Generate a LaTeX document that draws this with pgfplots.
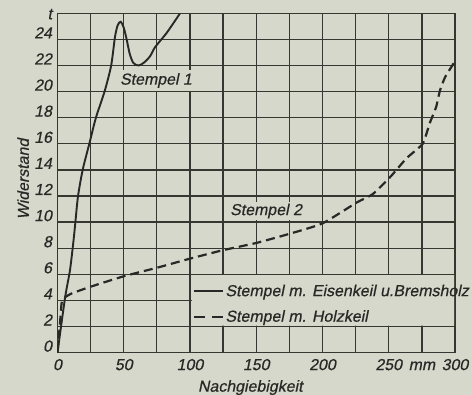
\documentclass[border=0pt]{standalone}
\usepackage{pgfplots}
\pgfplotsset{compat=1.18}
\usepackage{fontspec}
\setmainfont{Liberation Sans}[FakeSlant=0.2, FakeBold=0.6]
\definecolor{bg}{RGB}{214,216,203}
\definecolor{ink}{RGB}{40,40,38}
\definecolor{gridc}{RGB}{55,55,50}
\begin{document}
\begin{tikzpicture}
\useasboundingbox (-57.5bp,-42.4bp) rectangle (414.5bp,352.6bp);
\fill[bg] (-57.5bp,-42.4bp) rectangle (414.5bp,352.6bp);
\begin{axis}[
  width=397.5bp, height=339.3bp, scale only axis,
  xmin=0, xmax=300, ymin=0, ymax=26,
  xtick={0,50,...,300},
  minor xtick={25,75,...,275},
  ytick={0,2,...,24},
  extra y ticks={26},
  extra y tick labels={t},
  extra y tick style={grid=none, yticklabel style={yshift=-7bp}},
  grid=both,
  major grid style={gridc, line width=1.25bp},
  minor grid style={gridc, line width=1.25bp},
  axis line style={gridc, line width=1.25bp},
  major tick length=0pt, minor tick length=0pt,
  font=\fontsize{16}{18}\selectfont,
  ticklabel style={ink},
  /pgf/number format/assume math mode=true,
  yticklabel style={anchor=base east, yshift=1bp, xshift=-2bp},
  xticklabel style={text height=11.5bp, yshift=-2.5bp},
  extra x ticks={275},
  extra x tick labels={mm},
  extra x tick style={grid=none},
  xlabel={Nachgiebigkeit},
  ylabel={Widerstand},
  xlabel style={ink, at={(axis cs:145.5,0)}, anchor=north, yshift=-24bp},
  ylabel style={ink, at={([xshift=-25bp]axis cs:0,13.3)}, anchor=south},
  legend style={at={(axis cs:102.3,5.3)}, anchor=north west, fill=none, draw=none,
    inner sep=0pt, row sep=10.5bp, text=ink,
    nodes={inner sep=1bp}},
  legend cell align=left,
]
% white-out behind the legend
\addplot[fill=bg, draw=none, forget plot] coordinates {(101.5,2.07) (299.3,2.07) (299.3,5.93) (101.5,5.93)} \closedcycle;

\addplot[ink, line width=1.9bp, smooth, tension=0.45,
  legend image code/.code={\draw[ink, line width=1.9bp] (0bp,0bp) -- (29bp,0bp);}]
  coordinates {
  (0,0) (5.7,4.2) (9.4,6.3) (12,8.5) (13.5,10) (15.5,12) (19,14) (24,16)
  (29,18) (35.5,20) (40.5,22) (43.4,24.2) (45.5,25.1) (47.7,25.35) (50,24.9)
  (52.2,24.0) (54.5,22.9) (57.2,22.2) (61,22.0) (65,22.2) (69.8,22.7) (73.6,23.4)
  (82.4,24.5) (92.5,26)
  };
\addlegendentry{Stempel m. Eisenkeil u.Bremsholz}

\addplot[ink, line width=2.2bp, dash pattern=on 9bp off 5bp, smooth, tension=0.3,
  legend image code/.code={\draw[ink, line width=2.2bp, dash pattern=on 11bp off 7bp] (0bp,0bp) -- (29bp,0bp);}]
  coordinates {
  (0,0) (2,2.4) (3.5,4.0) (10,4.5) (25,5.05) (50,5.85) (75,6.5) (100,7.2)
  (125,7.85) (150,8.4) (175,9.1) (200,9.9) (225.8,11.5) (238,12.15)
  (251.5,13.5) (263.5,14.9) (275.6,16.0) (281,17.6) (285.7,18.8) (288.7,20.1)
  (292.5,21.1) (299.2,22.2)
  };
\addlegendentry{Stempel m. Holzkeil}

\node[fill=bg, text=ink, inner sep=3bp] at (axis cs:74.3,20.85) {Stempel 1};
\node[fill=bg, text=ink, inner sep=2bp] at (axis cs:157.4,10.85) {Stempel 2};
\end{axis}
\end{tikzpicture}
\end{document}
